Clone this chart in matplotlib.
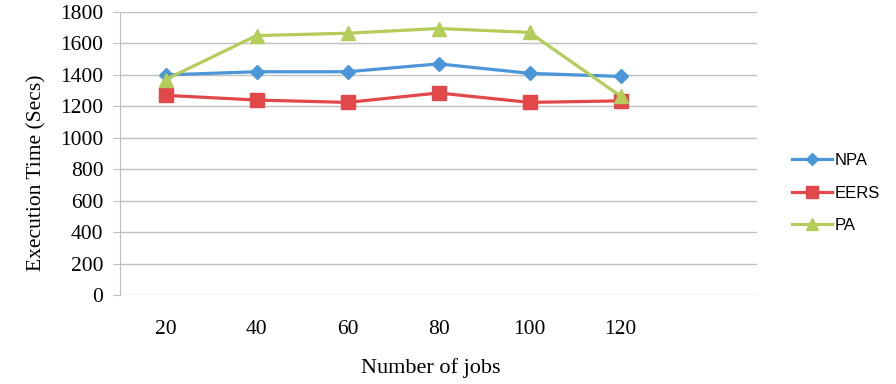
import matplotlib
matplotlib.use("Agg")
import matplotlib.pyplot as plt
from matplotlib import font_manager

categories = ["20", "40", "60", "80", "100", "120", ""]
npa = [1400, 1420, 1420, 1470, 1410, 1390]
eers = [1270, 1240, 1225, 1285, 1225, 1235]
pa = [1370, 1650, 1665, 1695, 1670, 1265]

def pick(fams):
    for f in fams:
        try:
            font_manager.findfont(f, fallback_to_default=False)
            return f
        except Exception:
            pass
    return "DejaVu Sans"

serif = "Liberation Serif"
legfam = pick(["Liberation Sans Narrow", "Liberation Sans"])
legsize = 13.5 if legfam == "Liberation Sans Narrow" else 12

fig = plt.figure(figsize=(8.96, 3.84), dpi=100)
ax = fig.add_axes([120/896, 1-295/384, (757-120)/896, (295-12)/384])

x = list(range(len(npa)))
ax.plot(x, npa, color="#4A96D6", lw=2.3, marker="D", ms=7.5, label="NPA", zorder=3)
ax.plot(x, eers, color="#E2474A", lw=2.3, marker="s", ms=10.5, label="EERS", zorder=3)
ax.plot(x, pa, color="#B3CC5A", lw=2.3, marker="^", ms=10.5, label="PA", zorder=4)

ax.set_xlim(-0.5, len(categories) - 0.5)
ax.set_ylim(0, 1800)
ax.set_yticks(range(0, 1801, 200))
ax.set_xticks(range(len(categories)))
ax.set_xticklabels(categories)
ax.grid(axis="y", color="#BFBFBF", lw=1)
ax.set_axisbelow(True)
for s in ["top", "right", "bottom"]:
    ax.spines[s].set_visible(False)
ax.spines["left"].set_color("#BFBFBF")
ax.tick_params(axis="y", length=5, color="#BFBFBF", labelsize=15.5, pad=7)
ax.tick_params(axis="x", length=0, labelsize=15.5, pad=18)
for lab in ax.get_xticklabels() + ax.get_yticklabels():
    lab.set_family(serif)

fig.text(37/896, 1-173/384, "Execution Time (Secs)", family=serif, fontsize=15.5,
         rotation=90, ha="center", va="center")
fig.text(431/896, 1-368/384, "Number of jobs", family=serif, fontsize=16,
         ha="center", va="center")

leg = fig.legend(loc="upper left", bbox_to_anchor=(777/896, 1-138/384), frameon=False,
                 prop={"family": legfam, "size": legsize},
                 handlelength=2.4, handletextpad=0.15, labelspacing=1.05, markerscale=0.85)

fig.savefig("out.png", dpi=100)
